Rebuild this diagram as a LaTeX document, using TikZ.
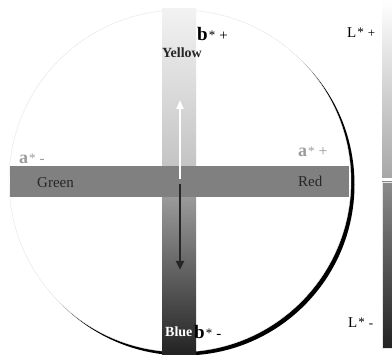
\documentclass[tikz,border=0pt]{standalone}
\usepackage{fontspec}
\setmainfont{Liberation Serif}
\usetikzlibrary{arrows.meta}
\definecolor{labBand}{HTML}{808080}
\definecolor{labDark}{HTML}{262626}
\definecolor{labPale}{HTML}{9C9C9C}
\definecolor{labRim}{HTML}{E4E4E4}
\definecolor{labLight}{HTML}{F2F2F2}
\definecolor{labMid}{HTML}{C4C4C4}
\definecolor{labLow}{HTML}{9A9A9A}
\definecolor{labDeep}{HTML}{222222}
\newcommand{\fs}[1]{\fontsize{#1}{#1}\selectfont}
\newcommand{\starmark}{\hspace{1pt}\raisebox{1pt}{\fs{13}*}\hspace{4pt}}

\begin{document}
\begin{tikzpicture}[x=1pt,y=-1pt]
  \tikzset{
    axislabel/.style={inner sep=0pt,anchor=base west},
    hue/.style={font=\fs{15},inner sep=0pt,anchor=base west,text=labDark},
    ruler/.style={draw=labRim,line width=0.4pt}
  }
  \useasboundingbox (0,0) rectangle (392,355);

  % sphere with its shadow
  \fill[black] (183.5,184.5) circle (171);
  \fill[white] (180,181) circle (171);
  \draw[labRim,line width=0.4pt] (180,181) circle (171);

  % b* axis
  \shade[top color=labLight,bottom color=labMid] (162,9) rectangle (196,166);
  \shade[top color=labLow,bottom color=labDeep] (162,197) rectangle (196,355);
  % a* axis
  \fill[labBand] (10,166) rectangle (349,197);

  % L* scale
  \shade[top color=white,bottom color=labMid!85!black] (382,0) rectangle (392,178);
  \shade[ruler,top color=labLow!90!black,bottom color=labDeep] (382,182) rectangle (392,348);

  \coordinate (yMid) at (180,179);
  \coordinate (yTop) at (180,100);
  \coordinate (bMid) at (180,184);
  \coordinate (bLow) at (180,270);
  \draw[white,line width=2pt,-{Triangle[width=7pt,length=9pt]}] (yMid) -- (yTop);
  \draw[labDark,line width=2.5pt,-{Triangle[width=8pt,length=9pt]}] (bMid) -- (bLow);

  \node[axislabel] (bplus) at (197,41) {{\fs{19}\bfseries b}\starmark{\fs{15}+}};
  \node[hue,anchor=base,font=\fs{14}\bfseries] (yellow) at (182,58) {Yellow};
  \node[axislabel] (lplus) at (347,38) {{\fs{15}L}\starmark{\fs{13}+}};
  \node[axislabel,text=labPale] (aminus) at (19,164) {{\fs{18}\bfseries a}\starmark{\fs{15}-}};
  \node[axislabel,text=labPale] (aplus) at (298,157) {{\fs{18}\bfseries a}\starmark{\fs{16}+}};
  \node[hue] (green) at (37,188) {Green};
  \node[hue] (red) at (298,187) {Red};
  \node[hue,text=white,font=\fs{14}\bfseries] (blue) at (165,337) {Blue};
  \node[axislabel] (bminus) at (194,339) {{\fs{19}\bfseries b}\starmark{\fs{15}-}};
  \node[axislabel] (lminus) at (348,328) {{\fs{15}L}\starmark{\fs{13}-}};
\end{tikzpicture}
\end{document}
